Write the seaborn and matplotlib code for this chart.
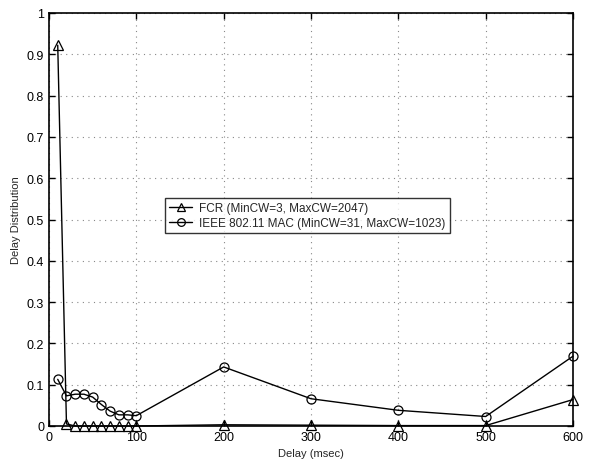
import pandas as pd
import seaborn as sns
import matplotlib.pyplot as plt

delay = [10, 20, 30, 40, 50, 60, 70, 80, 90, 100, 200, 300, 400, 500, 600]
fcr = [0.922, 0.005, 0.0, 0.0, 0.0, 0.0, 0.0, 0.0, 0.0, 0.0, 0.003, 0.002, 0.001, 0.001, 0.064]
ieee = [0.113, 0.073, 0.077, 0.077, 0.070, 0.052, 0.036, 0.027, 0.027, 0.025, 0.143, 0.066, 0.038, 0.023, 0.169]
labels = ['FCR (MinCW=3, MaxCW=2047)', 'IEEE 802.11 MAC (MinCW=31, MaxCW=1023)']

df = pd.DataFrame({labels[0]: fcr, labels[1]: ieee}, index=delay)
df.index.name = 'Delay (msec)'

sns.set_style("white")
plt.rcParams['font.family'] = ['Liberation Sans', 'DejaVu Sans']
plt.rcParams['font.size'] = 8.5

fig = plt.figure(figsize=(5.91, 4.60), dpi=100)
ax = fig.add_axes([49 / 591, 33 / 460, 524 / 591, 413 / 460])
sns.lineplot(data=df, ax=ax, palette=['black', 'black'], dashes=False,
             markers=['^', 'o'], linewidth=1, markersize=6.5, clip_on=False,
             markerfacecolor='none', markeredgecolor='black', markeredgewidth=0.9)

ax.set_xlim(0, 600)
ax.set_ylim(0, 1)
ax.set_xticks(range(0, 601, 100))
ax.set_yticks([i / 10 for i in range(11)])
ax.set_yticklabels(['0', '0.1', '0.2', '0.3', '0.4', '0.5', '0.6', '0.7', '0.8', '0.9', '1'])
ax.grid(True, linestyle=(0, (1, 4)), color='#888888', linewidth=0.8)
ax.tick_params(direction='in', length=4, width=1, colors='black', labelsize=9,
               top=True, right=True, bottom=True, left=True)
for s in ax.spines.values():
    s.set_color('black')
    s.set_linewidth(1.2)
ax.set_xlabel('Delay (msec)', fontsize=8)
ax.set_ylabel('Delay Distribution', fontsize=8)

leg = ax.legend(loc='center', bbox_to_anchor=(0.493, 0.51), frameon=True, fancybox=False,
                edgecolor='black', fontsize=8.5, handlelength=2, borderpad=0.35,
                labelspacing=0.25, handletextpad=0.6, markerscale=0.85)
leg.get_frame().set_linewidth(1)

fig.savefig("out.png", dpi=100)
